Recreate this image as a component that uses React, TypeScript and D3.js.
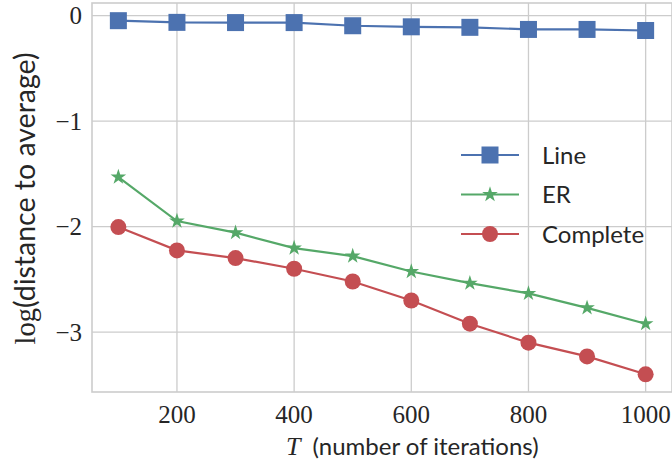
import React from 'react';
import * as d3 from 'd3';

const iterations = [100, 200, 300, 400, 500, 600, 700, 800, 900, 1000];
const lineVals = [-0.047, -0.063, -0.065, -0.065, -0.095, -0.105, -0.11, -0.13, -0.13, -0.14];
const erVals = [-1.53, -1.947, -2.057, -2.203, -2.279, -2.425, -2.536, -2.633, -2.77, -2.92];
const completeVals = [-2.004, -2.225, -2.298, -2.399, -2.52, -2.70, -2.92, -3.10, -3.23, -3.40];
const xTicks = [200, 400, 600, 800, 1000];
const yTicks = [0, -1, -2, -3];
const yTickLabels = ['0', '\u22121', '\u22122', '\u22123'];

const W = 672;
const H = 460;
const M = { top: 3, right: 0, bottom: 68, left: 92 };

const BLUE = '#4C72B0';
const GREEN = '#55A868';
const RED = '#C44E52';
const GRID = '#cccccc';
const TEXT = '#262626';
const SERIF = '"Liberation Serif", "DejaVu Serif", serif';
const SANS = 'Lato, "Open Sans", sans-serif';

type Series = { name: string; values: number[]; color: string; marker: 'square' | 'star' | 'circle' };

const series: Series[] = [
  { name: 'Line', values: lineVals, color: BLUE, marker: 'square' },
  { name: 'ER', values: erVals, color: GREEN, marker: 'star' },
  { name: 'Complete', values: completeVals, color: RED, marker: 'circle' },
];

function Marker({ kind, color, cx, cy }: { kind: Series['marker']; color: string; cx: number; cy: number }) {
  if (kind === 'square') {
    return <rect x={cx - 8.5} y={cy - 8.5} width={17} height={17} fill={color} />;
  }
  if (kind === 'circle') {
    return <circle cx={cx} cy={cy} r={8} fill={color} />;
  }
  const star = d3.symbol().type(d3.symbolStar).size(76)();
  return <path d={star ?? ''} transform={`translate(${cx},${cy})`} fill={color} />;
}

export default function App() {
  const innerW = W - M.left - M.right;
  const innerH = H - M.top - M.bottom;
  const xPad = (1000 - 100) * 0.05;
  const x = d3.scaleLinear().domain([100 - xPad, 1000 + xPad]).range([M.left, M.left + innerW]);
  const yMin = -3.40, yMax = -0.047;
  const yPad = (yMax - yMin) * 0.05;
  const y = d3.scaleLinear().domain([yMin - yPad, yMax + yPad]).range([M.top + innerH, M.top]);

  const line = d3.line<number>()
    .x((_, i) => x(iterations[i]))
    .y(d => y(d));

  const legX = 461;
  const legY0 = 155;
  const legStep = 39.5;

  return (
    <div style={{ position: 'absolute', left: 0, top: 0 }}>
      <svg width={W} height={H} viewBox={`0 0 ${W} ${H}`} style={{ display: 'block', background: '#fff' }}>
        {/* grid */}
        {xTicks.map(t => (
          <line key={'gx' + t} x1={x(t)} x2={x(t)} y1={M.top} y2={M.top + innerH} stroke={GRID} strokeWidth={1.3} />
        ))}
        {yTicks.map(t => (
          <line key={'gy' + t} x1={M.left} x2={M.left + innerW} y1={y(t)} y2={y(t)} stroke={GRID} strokeWidth={1.3} />
        ))}
        {/* spines */}
        <rect x={M.left} y={M.top} width={innerW} height={innerH} fill="none" stroke={GRID} strokeWidth={1.6} />

        {/* series */}
        {series.map(s => (
          <g key={s.name}>
            <path d={line(s.values) ?? ''} fill="none" stroke={s.color} strokeWidth={2.2} />
            {s.values.map((v, i) => (
              <Marker key={i} kind={s.marker} color={s.color} cx={x(iterations[i])} cy={y(v)} />
            ))}
          </g>
        ))}

        {/* tick labels */}
        {xTicks.map(t => (
          <text key={'tx' + t} x={x(t)} y={423} textAnchor="middle" fontFamily={SERIF} fontSize={25} fill={TEXT}>
            {t}
          </text>
        ))}
        {yTicks.map((t, i) => (
          <text key={'ty' + t} x={82} y={y(t)} dy="0.34em" textAnchor="end" fontFamily={SERIF} fontSize={25} fill={TEXT}>
            {yTickLabels[i]}
          </text>
        ))}

        {/* axis labels */}
        <text x={286} y={455} fontSize={24} fill={TEXT} fontFamily={SANS}>
          <tspan fontFamily={SERIF} fontStyle="italic" fontSize={26}>T</tspan>
          <tspan dx={6}> (number of iterations)</tspan>
        </text>
        <text transform={`translate(35,${M.top + innerH / 2 + 1}) rotate(-90)`} textAnchor="middle" fontSize={28.5} fill={TEXT} fontFamily={SANS}>
          <tspan fontFamily={SERIF}>log</tspan>
          <tspan>(distance to average)</tspan>
        </text>

        {/* legend */}
        {series.map((s, i) => {
          const ly = legY0 + i * legStep;
          return (
            <g key={'leg' + s.name}>
              <line x1={legX} x2={legX + 58} y1={ly} y2={ly} stroke={s.color} strokeWidth={2.2} />
              <Marker kind={s.marker} color={s.color} cx={legX + 29} cy={ly} />
              <text x={542} y={ly} dy="0.36em" fontFamily={SANS} fontSize={24} fill={TEXT}>{s.name}</text>
            </g>
          );
        })}
      </svg>
    </div>
  );
}
